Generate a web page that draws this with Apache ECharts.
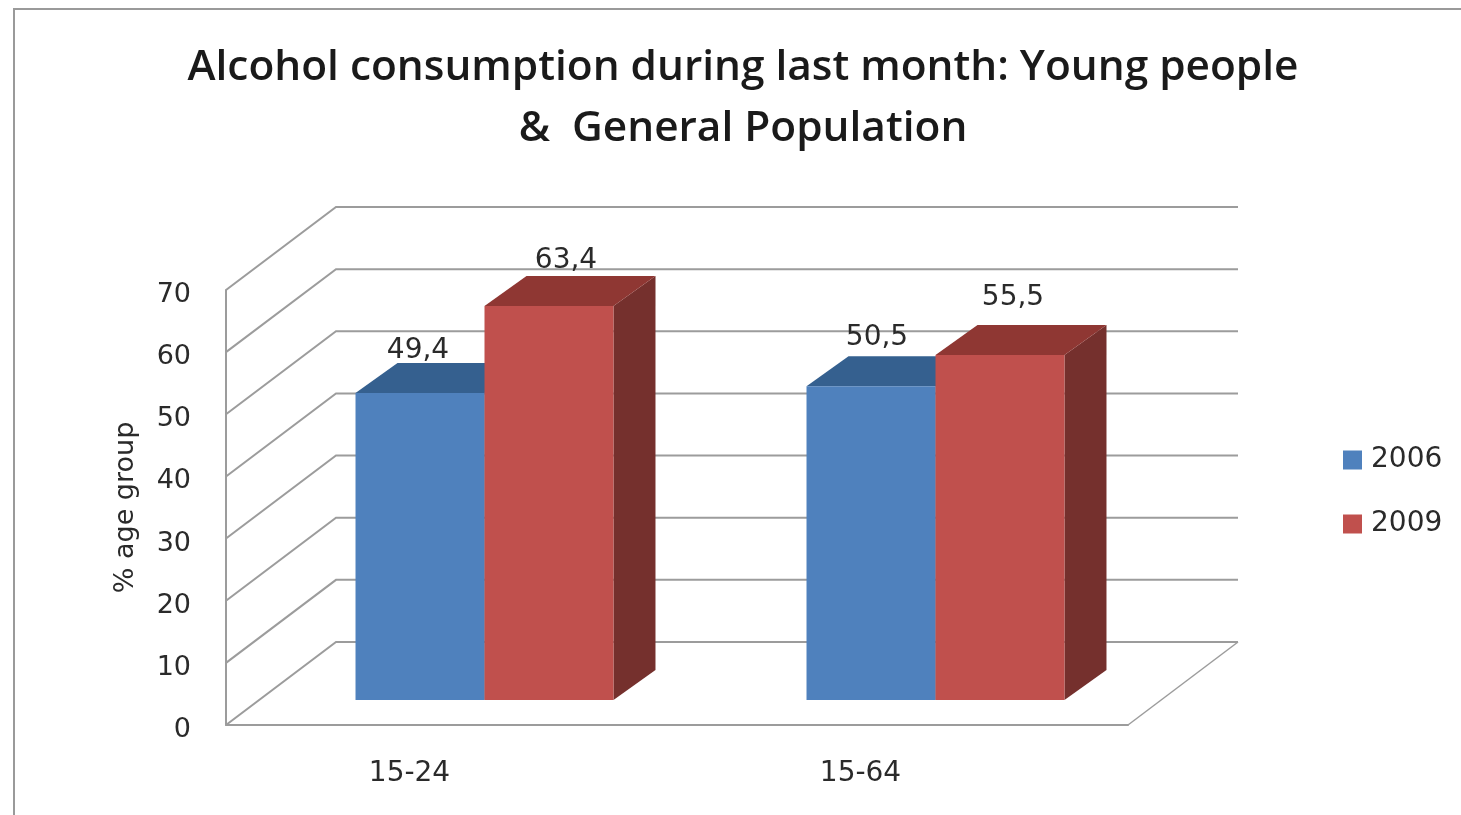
<!DOCTYPE html>
<html>
<head>
<meta charset="utf-8">
<script src="https://cdn.jsdelivr.net/npm/echarts@6/dist/echarts.min.js"></script>
<style>html,body{margin:0;padding:0;background:#fff}#c{width:1461px;height:815px}</style>
</head>
<body>
<div id="c"></div>
<script>
const categories = ['15-24', '15-64'];
const seriesNames = ['2006', '2009'];
const values2006 = [49.4, 50.5];
const values2009 = [63.4, 55.5];
const axisTicks = [0, 10, 20, 30, 40, 50, 60, 70];
const titleText = 'Alcohol consumption during last month: Young people\n&  General Population';
const yName = '% age group';

const depth = {x: 110, y: -83};
const barStart = {x: 33, y: -25};
const barDepth = {x: 42, y: -30};
const barWidthRatio = 0.286;
const labelNudge = {'2006': [[-2, -42], [6, -48]], '2009': [[17, -45], [13, -57]]};
const palette = {
  '2006': {front: '#4f81bd', top: '#35608f', side: '#2f5278'},
  '2009': {front: '#c0504d', top: '#8f3733', side: '#75302d'}
};
const gridColor = '#9c9c9c';
const textColor = '#2a2a2a';

function gridRender(params, api) {
  const v = api.value(1);
  const cs = params.coordSys;
  const y = api.coord([0, v])[1];
  const x0 = cs.x, x1 = cs.x + cs.width;
  const bx0 = x0 + depth.x, bx1 = x1 + depth.x, by = y + depth.y;
  const children = [
    {type: 'polyline', shape: {points: [[x0, y], [bx0, by], [bx1, by]]},
     style: {stroke: gridColor, lineWidth: 2, fill: null}}
  ];
  if (v === 0) {
    children.push({type: 'line', shape: {x1: x1, y1: y, x2: bx1, y2: by},
      style: {stroke: gridColor, lineWidth: 1.5}});
  }
  return {type: 'group', children: children};
}

function barRender(name, side) {
  return function (params, api) {
    const i = params.dataIndex;
    const v = api.value(1);
    const top = api.coord([api.value(0), v]);
    const base = api.coord([api.value(0), 0]);
    const w = api.size([1, 0])[0] * barWidthRatio;
    const xl = top[0] + barStart.x + (side === 0 ? -w : 0);
    const xr = xl + w;
    const yt = top[1] + barStart.y;
    const yb = base[1] + barStart.y;
    const dx = barDepth.x, dy = barDepth.y;
    const c = palette[name];
    const n = labelNudge[name][i];
    return {type: 'group', children: [
      {type: 'polygon', shape: {points: [[xr, yt], [xr + dx, yt + dy], [xr + dx, yb + dy], [xr, yb]]}, style: {fill: c.side}},
      {type: 'polygon', shape: {points: [[xl, yt], [xl + dx, yt + dy], [xr + dx, yt + dy], [xr, yt]]}, style: {fill: c.top}},
      {type: 'rect', shape: {x: xl, y: yt, width: w, height: yb - yt}, style: {fill: c.front}},
      {type: 'text', x: (xl + xr) / 2 + n[0], y: yt + n[1],
       style: {text: v.toFixed(1).replace('.', ','), fill: textColor, font: '28px "DejaVu Sans"', align: 'center', verticalAlign: 'middle'}}
    ]};
  };
}

const chart = echarts.init(document.getElementById('c'), null, {renderer: 'canvas'});
chart.setOption({
  animation: false,
  backgroundColor: '#ffffff',
  title: {
    text: titleText, left: 738, top: 32, textAlign: 'center',
    textStyle: {fontFamily: 'Open Sans', fontWeight: 600, fontSize: 42.4, lineHeight: 61, color: '#1a1a1a'}
  },
  graphic: [
    {type: 'polyline', silent: true, shape: {points: [[14, 815], [14, 9], [1461, 9]]},
     style: {stroke: '#9a9a9a', lineWidth: 2, fill: null}}
  ],
  legend: {
    orient: 'vertical', left: 1338, top: 441, itemWidth: 19, itemHeight: 19, itemGap: 36,
    icon: 'rect', data: seriesNames, selectedMode: false,
    textStyle: {fontFamily: 'DejaVu Sans', fontSize: 28, color: textColor, padding: [0, 0, 0, 4]}
  },
  grid: {left: 226, top: 290, width: 902, height: 435},
  xAxis: {
    type: 'category', data: categories,
    axisLine: {show: true, lineStyle: {color: gridColor, width: 2}},
    axisTick: {show: false},
    splitLine: {show: false},
    axisLabel: {fontFamily: 'DejaVu Sans', fontSize: 28, color: textColor, margin: 35, padding: [0, 84, 0, 0]}
  },
  yAxis: {
    type: 'value', min: 0, max: 70, interval: 10,
    name: yName, nameLocation: 'middle', nameGap: 87, nameRotate: 90,
    nameTextStyle: {fontFamily: 'DejaVu Sans', fontSize: 27, color: textColor},
    axisLine: {show: true, lineStyle: {color: gridColor, width: 2}},
    axisTick: {show: false},
    splitLine: {show: false},
    axisLabel: {fontFamily: 'DejaVu Sans', fontSize: 27, color: textColor, margin: 35, verticalAlign: 'top', lineHeight: 10}
  },
  series: [
    {type: 'custom', name: 'grid', silent: true, clip: false, z: 1,
     data: axisTicks.map(t => [0, t]), encode: {x: 0, y: 1}, renderItem: gridRender},
    {type: 'custom', name: seriesNames[0], silent: true, clip: false, z: 2,
     itemStyle: {color: palette['2006'].front},
     data: values2006.map((v, i) => [i, v]), encode: {x: 0, y: 1}, renderItem: barRender('2006', 0)},
    {type: 'custom', name: seriesNames[1], silent: true, clip: false, z: 3,
     itemStyle: {color: palette['2009'].front},
     data: values2009.map((v, i) => [i, v]), encode: {x: 0, y: 1}, renderItem: barRender('2009', 1)}
  ]
});
</script>
</body>
</html>
